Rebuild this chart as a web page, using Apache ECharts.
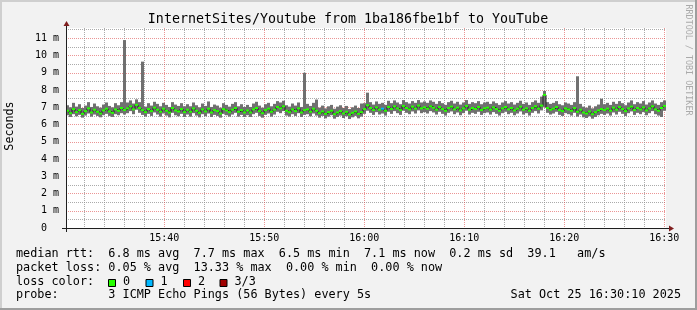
<!DOCTYPE html>
<html><head><meta charset="utf-8">
<script src="https://cdn.jsdelivr.net/npm/echarts@6/dist/echarts.min.js"></script>
<style>html,body{margin:0;padding:0;background:#f2f2f2}#c{width:697px;height:310px}</style>
</head><body><div id="c"></div>
<script>
// ---- time axis (minutes after 15:00) ----
const T0 = 30 + 10/60;          // 15:30:10
const T1 = 90 + 10/60;          // 16:30:10
const STEP = 0.3;               // minutes per sample (18 s)
const xMajorVals = [40, 50, 60, 70, 80, 90];
const xMajorLabels = ['15:40', '15:50', '16:00', '16:10', '16:20', '16:30'];
const yTickVals = [0,1,2,3,4,5,6,7,8,9,10,11];
const yTickLabels = ['0','1 m','2 m','3 m','4 m','5 m','6 m','7 m','8 m','9 m','10 m','11 m'];

// ---- median rtt (ms) per sample ----
const median = [
 6.80,6.66,6.90,6.72,6.84,6.62,6.78,6.94,6.70,6.86,6.74,6.64,6.82,6.92,6.76,6.68,6.88,6.80,6.96,6.84,
 6.94,7.06,6.88,7.14,6.96,6.84,6.72,6.90,6.78,6.98,6.86,6.74,6.92,6.80,6.70,6.96,6.82,6.76,6.90,6.72,
 6.86,6.74,6.94,6.80,6.68,6.88,6.76,6.92,6.70,6.84,6.78,6.64,6.90,6.82,6.72,6.86,6.96,6.74,6.84,6.70,
 6.82,6.70,6.88,6.96,6.78,6.66,6.84,6.92,6.74,6.86,7.02,6.94,7.06,6.80,6.72,6.88,6.78,6.94,6.70,6.84,
 6.88,6.74,6.92,6.80,6.66,6.76,6.62,6.72,6.80,6.60,6.70,6.78,6.64,6.74,6.58,6.68,6.76,6.62,6.72,6.90,
 7.12,6.96,6.84,7.00,6.86,6.92,6.80,7.02,6.90,7.06,6.94,6.84,7.08,6.96,6.88,7.04,6.92,7.10,6.94,7.00,
 6.92,7.06,6.98,6.86,7.02,6.90,6.80,6.96,7.04,6.88,6.98,6.82,6.94,7.08,6.86,6.96,6.90,7.02,6.84,6.94,
 6.98,6.86,7.00,6.90,6.80,6.94,7.02,6.88,6.96,6.82,6.92,7.04,6.86,6.94,6.80,6.96,7.06,6.92,7.10,7.72,
 6.96,6.86,6.92,7.02,6.84,6.78,6.94,6.88,6.80,6.96,6.74,6.86,6.70,6.64,6.76,6.60,6.72,6.82,6.90,6.84,
 6.92,6.80,6.98,6.86,7.02,6.90,6.78,6.94,7.04,6.84,6.96,6.88,7.00,6.82,6.94,7.06,6.88,6.80,6.96,7.08
];
// ---- lowest ping (ms) per sample ----
const low = [
 6.54,6.44,6.60,6.48,6.56,6.40,6.52,6.64,6.46,6.58,6.50,6.42,6.54,6.62,6.50,6.44,6.60,6.54,6.66,6.58,
 6.66,6.78,6.60,6.86,6.68,6.56,6.46,6.62,6.50,6.70,6.58,6.46,6.64,6.52,6.42,6.68,6.54,6.48,6.62,6.44,
 6.58,6.46,6.66,6.52,6.42,6.60,6.48,6.64,6.44,6.56,6.50,6.40,6.62,6.54,6.46,6.58,6.68,6.46,6.56,6.44,
 6.54,6.44,6.60,6.68,6.50,6.40,6.56,6.64,6.46,6.58,6.74,6.66,6.78,6.52,6.46,6.60,6.50,6.66,6.44,6.56,
 6.60,6.48,6.64,6.52,6.40,6.50,6.36,6.46,6.54,6.34,6.44,6.52,6.38,6.48,6.32,6.42,6.50,6.36,6.46,6.62,
 6.80,6.68,6.56,6.72,6.58,6.64,6.52,6.74,6.62,6.78,6.66,6.56,6.80,6.68,6.60,6.76,6.64,6.82,6.66,6.72,
 6.64,6.78,6.70,6.58,6.74,6.62,6.52,6.68,6.76,6.60,6.70,6.54,6.66,6.80,6.58,6.68,6.62,6.74,6.56,6.66,
 6.70,6.58,6.72,6.62,6.52,6.66,6.74,6.60,6.68,6.54,6.64,6.76,6.58,6.66,6.52,6.68,6.78,6.64,6.82,7.00,
 6.68,6.58,6.64,6.74,6.56,6.50,6.66,6.60,6.52,6.68,6.46,6.58,6.42,6.38,6.48,6.34,6.44,6.54,6.62,6.56,
 6.64,6.52,6.70,6.58,6.74,6.62,6.50,6.66,6.76,6.56,6.68,6.60,6.72,6.54,6.66,6.78,6.60,6.52,6.44,6.80
];
// ---- highest ping (ms) per sample ----
const high = [
 7.12,7.00,7.26,7.04,7.18,6.96,7.10,7.30,7.02,7.22,7.06,6.98,7.16,7.28,7.08,7.00,7.24,7.12,7.30,10.90,
 7.28,7.40,7.22,7.46,7.30,9.65,7.04,7.24,7.10,7.32,7.20,7.06,7.26,7.14,7.02,7.30,7.16,7.08,7.24,7.06,
 7.18,7.06,7.28,7.12,7.00,7.22,7.08,7.34,7.02,7.16,7.10,6.98,7.24,7.14,7.04,7.20,7.30,7.06,7.18,7.02,
 7.14,7.02,7.22,7.32,7.10,6.98,7.18,7.26,7.06,7.20,7.36,7.28,7.38,7.12,7.04,7.22,7.10,7.28,7.02,9.00,
 7.20,7.08,7.26,7.45,6.98,7.10,6.94,7.06,7.14,6.92,7.04,7.12,6.96,7.08,6.90,7.00,7.10,6.96,7.22,7.24,
 7.85,7.30,7.16,7.34,7.20,7.26,7.14,7.38,7.24,7.40,7.28,7.18,7.42,7.30,7.22,7.36,7.26,7.42,7.28,7.34,
 7.26,7.40,7.32,7.20,7.36,7.24,7.14,7.30,7.38,7.22,7.32,7.16,7.28,7.42,7.20,7.30,7.24,7.36,7.18,7.28,
 7.32,7.20,7.34,7.24,7.14,7.28,7.36,7.22,7.30,7.16,7.26,7.38,7.20,7.28,7.14,7.30,7.40,7.26,7.62,7.95,
 7.30,7.20,7.26,7.36,7.18,7.12,7.28,7.22,7.14,7.30,8.80,7.20,7.04,6.98,7.10,6.94,7.06,7.16,7.50,7.18,
 7.26,7.14,7.32,7.20,7.36,7.24,7.12,7.28,7.40,7.18,7.30,7.22,7.36,7.16,7.28,7.40,7.22,7.14,7.30,7.40
];
// ---- samples with packet loss: [sample index, lost pings] ----
const lossEvents = [[105, 1]];
const lossColors = ['#26ff00', '#00b8ff', '#ff0000', '#a00000'];
const lossLabels = ['0', '1', '2', '3/3'];

const legendLines = [
 'median rtt:  6.8 ms avg  7.7 ms max  6.5 ms min  7.1 ms now  0.2 ms sd  39.1   am/s',
 'packet loss: 0.05 % avg  13.33 % max  0.00 % min  0.00 % now',
 'loss color:',
 'probe:       3 ICMP Echo Pings (56 Bytes) every 5s'
];
const dateText = 'Sat Oct 25 16:30:10 2025';
const titleText = 'InternetSites/Youtube from 1ba186fbe1bf to YouTube';

// ---------------------------------------------------------
const lossOf = median.map(() => 0);
lossEvents.forEach(([i, l]) => { lossOf[i] = l; });
const smokeData = median.map((m, i) => [T0 + i * STEP, low[i], high[i]]);
const medData = median.map((m, i) => [T0 + i * STEP, m, lossOf[i]]);
const stepLine = median.map((m, i) => [T0 + i * STEP, m]);
stepLine.push([T1, median[median.length - 1]]);

const MONO = 'DejaVu Sans Mono';
const GRID_C = 'rgba(143,143,143,0.75)';
const MGRID_C = 'rgba(222,79,79,0.6)';
const chart = echarts.init(document.getElementById('c'), null, {renderer: 'canvas'});

const gfx = [];
gfx.push({type:'rect', shape:{x:0,y:0,width:697,height:2}, style:{fill:'#cfcfcf'}, z:100});
gfx.push({type:'rect', shape:{x:0,y:0,width:2,height:310}, style:{fill:'#cfcfcf'}, z:100});
gfx.push({type:'rect', shape:{x:0,y:308,width:697,height:2}, style:{fill:'#9e9e9e'}, z:100});
gfx.push({type:'rect', shape:{x:695,y:0,width:2,height:310}, style:{fill:'#9e9e9e'}, z:100});
gfx.push({type:'text', x:348, y:19.4, z:100, style:{text:titleText, fontFamily:MONO, fontSize:13.3, fill:'#000', align:'center', verticalAlign:'middle'}});
gfx.push({type:'text', x:9.5, y:126, rotation:Math.PI/2, z:100, style:{text:'Seconds', fontFamily:MONO, fontSize:11.7, fill:'#000', align:'center', verticalAlign:'middle'}});
gfx.push({type:'text', x:688, y:60, rotation:-Math.PI/2, z:100, style:{text:'RRDTOOL / TOBI OETIKER', fontFamily:MONO, fontSize:8.4, fill:'#aaaaaa', align:'center', verticalAlign:'middle'}});
gfx.push({type:'line', shape:{x1:62, y1:228.5, x2:670, y2:228.5}, style:{stroke:'#1f1f1f', lineWidth:1}, z:90});
gfx.push({type:'line', shape:{x1:66.5, y1:232, x2:66.5, y2:24}, style:{stroke:'#1f1f1f', lineWidth:1}, z:90});
gfx.push({type:'polygon', shape:{points:[[669,225.5],[669,231.5],[674,228.5]]}, style:{fill:'#801f1f'}, z:91});
gfx.push({type:'polygon', shape:{points:[[63.5,26],[69.5,26],[66.5,21]]}, style:{fill:'#801f1f'}, z:91});
const lineY = [254.2, 267.6, 282.0, 295.3];
legendLines.forEach((t, k) => {
  gfx.push({type:'text', x:16, y:lineY[k], z:100, style:{text:t, fontFamily:MONO, fontSize:11.8, fill:'#000', align:'left', verticalAlign:'middle'}});
});
const boxX = [108, 145.5, 183, 219.5];
lossLabels.forEach((lab, k) => {
  gfx.push({type:'rect', shape:{x:boxX[k]+0.5, y:279.5, width:7, height:7}, style:{fill:lossColors[k], stroke:'#000', lineWidth:1}, z:100});
  gfx.push({type:'text', x:boxX[k]+15, y:lineY[2], z:100, style:{text:lab, fontFamily:MONO, fontSize:11.8, fill:'#000', align:'left', verticalAlign:'middle'}});
});
gfx.push({type:'text', x:681, y:lineY[3], z:100, style:{text:dateText, fontFamily:MONO, fontSize:11.8, fill:'#000', align:'right', verticalAlign:'middle'}});

const minorXColors = ['rgba(0,0,0,0)', GRID_C, GRID_C, GRID_C, GRID_C];

const option = {
  animation: false,
  backgroundColor: '#f2f2f2',
  grid: {left:66, top:28, width:600, height:200, show:true, backgroundColor:'#ffffff', borderWidth:0},
  xAxis: [
    {type:'value', min:T0, max:T1, splitNumber:30, minInterval:2, maxInterval:2,
     axisLine:{show:false}, axisTick:{show:false}, axisLabel:{show:false},
     splitLine:{show:true, showMinLine:true, showMaxLine:false, lineStyle:{color:minorXColors, width:1, type:[1,1]}}},
    {type:'value', min:T0, max:T1, splitNumber:6, minInterval:10, maxInterval:10, position:'bottom',
     axisLine:{show:false}, axisTick:{show:false},
     axisLabel:{show:true, margin:5, fontFamily:MONO, fontSize:10, color:'#000',
       formatter: v => { const k = xMajorVals.findIndex(a => Math.abs(a - v) < 1e-6); return k < 0 ? '' : xMajorLabels[k]; }},
     splitLine:{show:true, showMinLine:false, showMaxLine:false, lineStyle:{color:MGRID_C, width:1, type:[1,1]}}}
  ],
  yAxis: [
    {type:'value', min:0, max:11.6, interval:0.5, position:'left',
     axisLine:{show:false}, axisTick:{show:false}, axisLabel:{show:false},
     splitLine:{show:true, showMinLine:true, showMaxLine:false, lineStyle:{color:['rgba(0,0,0,0)', GRID_C], width:1, type:[1,1]}}},
    {type:'value', min:0, max:11.6, interval:1, position:'left',
     axisLine:{show:false}, axisTick:{show:false},
     axisLabel:{show:true, margin:7, fontFamily:MONO, fontSize:10, color:'#000', showMaxLabel:false,
       formatter: v => { const k = yTickVals.findIndex(a => Math.abs(a - v) < 1e-6); if (k < 0) return ''; const s = yTickLabels[k]; return s.indexOf(' ') < 0 ? s + '  ' : s; }},
     splitLine:{show:true, showMinLine:false, showMaxLine:false, lineStyle:{color:MGRID_C, width:1, type:[1,1]}}}
  ],
  series: [
    {type:'custom', xAxisIndex:0, yAxisIndex:0, data:smokeData, z:3,
     renderItem: (params, api) => {
       const x0 = api.value(0), lo = api.value(1), hi = api.value(2);
       const p1 = api.coord([x0, hi]);
       const p2 = api.coord([x0 + STEP, lo]);
       return {type:'rect', shape:{x:p1[0], y:p1[1], width:p2[0]-p1[0], height:p2[1]-p1[1]}, style:{fill:'#707070'}};
     }},
    {type:'line', xAxisIndex:0, yAxisIndex:0, data:stepLine, step:'end', showSymbol:false, symbol:'none', z:4,
     lineStyle:{color:'#202020', width:1}},
    {type:'custom', xAxisIndex:0, yAxisIndex:0, data:medData, z:5,
     renderItem: (params, api) => {
       const x0 = api.value(0), m = api.value(1), l = api.value(2);
       const p1 = api.coord([x0, m]);
       const p2 = api.coord([x0 + STEP, m]);
       return {type:'rect', shape:{x:p1[0], y:p1[1]-1, width:p2[0]-p1[0], height:2}, style:{fill:lossColors[l]}};
     }}
  ],
  graphic: gfx
};
chart.setOption(option);
</script>
</body></html>
